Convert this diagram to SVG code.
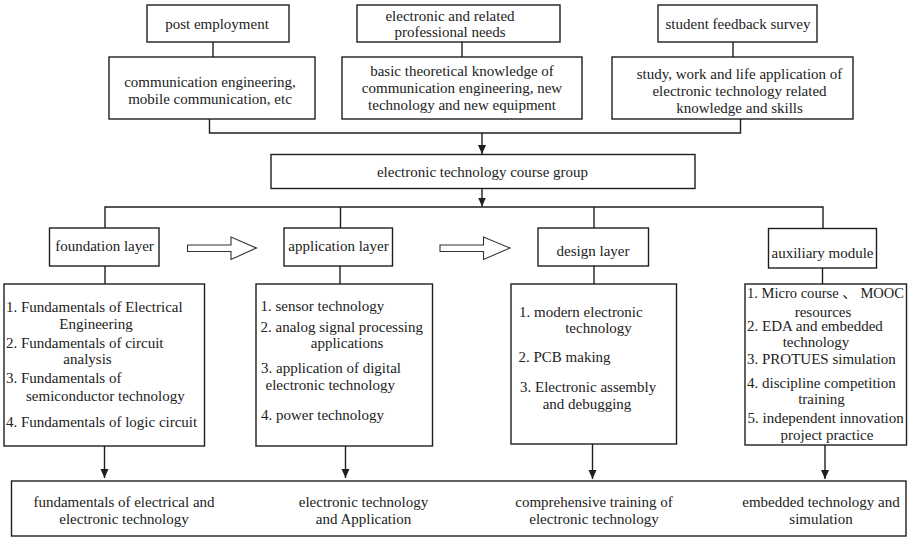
<svg xmlns="http://www.w3.org/2000/svg" width="912" height="539" viewBox="0 0 912 539" font-family="'Liberation Serif', 'Times New Roman', 'Noto Sans CJK SC', serif" font-size="15">
<style>
  rect.box { fill: #fff; stroke: #1e1e1e; stroke-width: 1.4; }
  .c { text-anchor: middle; }
  .ln { fill: none; stroke: #1e1e1e; stroke-width: 1.4; }
  .hollow { fill: #fff; stroke: #333; stroke-width: 1.1; }
</style>
<defs>
  <marker id="ah" markerWidth="10" markerHeight="10" refX="9" refY="5" orient="auto" markerUnits="userSpaceOnUse">
    <path d="M0,1 L9,5 L0,9 Z" fill="#1e1e1e"/>
  </marker>
</defs>
<rect x="0" y="0" width="912" height="539" fill="#fff"/>

<g id="connectors">
  <line class="ln" x1="213" y1="42" x2="213" y2="57"/>
  <line class="ln" x1="462" y1="42" x2="462" y2="57"/>
  <line class="ln" x1="733" y1="42" x2="733" y2="57"/>
  <polyline class="ln" points="209.5,119 209.5,133 740.5,133 740.5,119"/>
  <line class="ln" x1="482" y1="133" x2="482" y2="154" marker-end="url(#ah)"/>
  <line class="ln" x1="482" y1="188" x2="482" y2="206.5" marker-end="url(#ah)"/>
  <polyline class="ln" points="105,228 105,207 823,207 823,228"/>
  <line class="ln" x1="340.5" y1="207" x2="340.5" y2="228"/>
  <line class="ln" x1="594" y1="207" x2="594" y2="228"/>
  <line class="ln" x1="105" y1="266" x2="105" y2="284"/>
  <line class="ln" x1="340" y1="266" x2="340" y2="284"/>
  <line class="ln" x1="594" y1="266" x2="594" y2="284"/>
  <line class="ln" x1="822.5" y1="268" x2="822.5" y2="284"/>
  <line class="ln" x1="104.5" y1="446" x2="104.5" y2="478" marker-end="url(#ah)"/>
  <line class="ln" x1="345.5" y1="446" x2="345.5" y2="478" marker-end="url(#ah)"/>
  <line class="ln" x1="592.5" y1="444" x2="592.5" y2="479" marker-end="url(#ah)"/>
  <line class="ln" x1="825" y1="445" x2="825" y2="479" marker-end="url(#ah)"/>
  <path class="hollow" d="M187.5,245 L231,245 L231,237 L256.5,248 L231,259.5 L231,251.5 L187.5,251.5 Z"/>
  <path class="hollow" d="M440,245 L483.5,245 L483.5,237 L510,248 L483.5,259.5 L483.5,251.5 L440,251.5 Z"/>
</g>

<g id="post-employment">
  <rect class="box" x="147" y="5" width="142" height="37"/>
  <text class="c" x="217" y="29" fill="#222">post employment</text>
</g>
<g id="professional-needs">
  <rect class="box" x="357" y="5" width="203" height="37"/>
  <text class="c" x="450" y="20.5" fill="#222">electronic and related</text>
  <text class="c" x="450" y="37" fill="#222">professional needs</text>
</g>
<g id="student-feedback">
  <rect class="box" x="658" y="5" width="159" height="37"/>
  <text class="c" x="738" y="29" fill="#222">student feedback survey</text>
</g>
<g id="communication">
  <rect class="box" x="109" y="57" width="206" height="62"/>
  <text class="c" x="210" y="87" fill="#222">communication engineering,</text>
  <text class="c" x="210" y="104" fill="#222">mobile communication, etc</text>
</g>
<g id="basic-knowledge">
  <rect class="box" x="342" y="57" width="240" height="62"/>
  <text class="c" x="462" y="76" fill="#222">basic theoretical knowledge of</text>
  <text class="c" x="462" y="93" fill="#222">communication engineering, new</text>
  <text class="c" x="462" y="110" fill="#222">technology and new equipment</text>
</g>
<g id="study-work">
  <rect class="box" x="612" y="57" width="241" height="62"/>
  <text class="c" x="739.5" y="79" fill="#222">study, work and life application of</text>
  <text class="c" x="739.5" y="96" fill="#222">electronic technology related</text>
  <text class="c" x="739.5" y="113" fill="#222">knowledge and skills</text>
</g>
<g id="course-group">
  <rect class="box" x="271" y="154.5" width="424" height="34"/>
  <text class="c" x="482.5" y="177" fill="#222">electronic technology course group</text>
</g>

<g id="foundation-layer">
  <rect class="box" x="49.5" y="228" width="109.5" height="38"/>
  <text class="c" x="104.5" y="250.5" fill="#222">foundation layer</text>
</g>
<g id="application-layer">
  <rect class="box" x="284" y="228" width="108.5" height="38"/>
  <text class="c" x="338.5" y="250.5" fill="#222">application layer</text>
</g>
<g id="design-layer">
  <rect class="box" x="538" y="228" width="110.5" height="38"/>
  <text class="c" x="593" y="256" fill="#222">design layer</text>
</g>
<g id="auxiliary-module">
  <rect class="box" x="768.5" y="228.5" width="108" height="39.5"/>
  <text class="c" x="822.5" y="257.5" fill="#222">auxiliary module</text>
</g>

<g id="foundation-content" fill="#222">
  <rect class="box" x="4" y="284" width="200.5" height="162"/>
  <text x="6" y="312">1. Fundamentals of Electrical</text>
  <text class="c" x="96" y="329">Engineering</text>
  <text x="6" y="348">2. Fundamentals of circuit</text>
  <text class="c" x="87.5" y="364">analysis</text>
  <text x="6" y="383">3. Fundamentals of</text>
  <text x="26" y="400.5">semiconductor technology</text>
  <text x="6" y="427">4. Fundamentals of logic circuit</text>
</g>
<g id="application-content" fill="#222">
  <rect class="box" x="256" y="284" width="176.5" height="162"/>
  <text x="260.5" y="310.5">1. sensor technology</text>
  <text x="260.5" y="331.5">2. analog signal processing</text>
  <text class="c" x="347" y="348">applications</text>
  <text x="261" y="373">3. application of digital</text>
  <text x="265.5" y="389.5">electronic technology</text>
  <text x="261" y="419.5">4. power technology</text>
</g>
<g id="design-content" fill="#222">
  <rect class="box" x="511" y="284" width="165.5" height="160"/>
  <text x="519" y="316.5">1. modern electronic</text>
  <text class="c" x="598.5" y="333">technology</text>
  <text x="518.5" y="362">2. PCB making</text>
  <text x="520" y="392">3. Electronic assembly</text>
  <text class="c" x="587" y="409">and debugging</text>
</g>
<g id="auxiliary-content" fill="#222">
  <rect class="box" x="745" y="284" width="161.5" height="161"/>
  <text x="747" y="298" textLength="157" lengthAdjust="spacingAndGlyphs">1. Micro course 、 MOOC</text>
  <text class="c" x="823" y="316.5">resources</text>
  <text x="747" y="331">2. EDA and embedded</text>
  <text class="c" x="816" y="347">technology</text>
  <text x="747" y="364">3. PROTUES simulation</text>
  <text x="747" y="387.5">4. discipline competition</text>
  <text class="c" x="821.5" y="404">training</text>
  <text x="747.5" y="423">5. independent innovation</text>
  <text class="c" x="827" y="440">project practice</text>
</g>

<g id="outcomes" fill="#222">
  <rect class="box" x="11.5" y="481" width="894.5" height="55"/>
  <text class="c" x="124" y="507">fundamentals of electrical and</text>
  <text class="c" x="124" y="524">electronic technology</text>
  <text class="c" x="363.5" y="507">electronic technology</text>
  <text class="c" x="363.5" y="524">and Application</text>
  <text class="c" x="594" y="507">comprehensive training of</text>
  <text class="c" x="594" y="524">electronic technology</text>
  <text class="c" x="821" y="507">embedded technology and</text>
  <text class="c" x="821" y="524">simulation</text>
</g>
</svg>
